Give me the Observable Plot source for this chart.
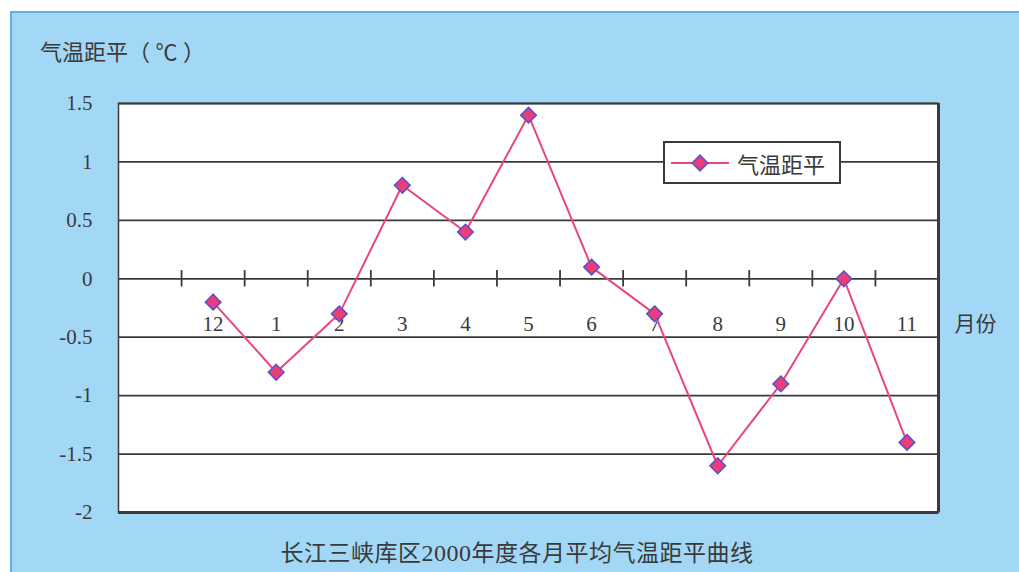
<!DOCTYPE html>
<html>
<head>
<meta charset="utf-8">
<script src="https://cdn.jsdelivr.net/npm/d3@7"></script>
<script src="https://cdn.jsdelivr.net/npm/@observablehq/plot@0.6"></script>
<style>
  html, body { margin: 0; padding: 0; background: #ffffff; }
  #page { position: relative; width: 1019px; height: 572px; overflow: hidden; }
  #panel {
    position: absolute; left: 10px; top: 11px; right: 0; bottom: 0;
    background: #a2d8f6;
    border-top: 2px solid #5fb0e0; border-left: 2px solid #5fb0e0;
  }
  .serif { font-family: "Liberation Serif", "Noto Sans CJK SC", serif; color: #3a3a3a; }
  .num { font-family: "Liberation Serif", serif; font-size: 24px; }
  #ytitle { position: absolute; left: 40px; top: 34px; font-size: 22px; }
  #chart { position: absolute; left: 0; top: 70px; }
  #legend {
    position: absolute; left: 663px; top: 141px; width: 174px; height: 39px;
    background: #fff; border: 2px solid #3a3a3a; box-sizing: content-box;
    display: flex; align-items: center; font-size: 22px;
  }
  #legend svg { margin-left: 6px; margin-right: 8px; }
  #caption { position: absolute; left: 0; width: 1034px; top: 534px; text-align: center; font-size: 23px; letter-spacing: 0.5px; }
</style>
</head>
<body>
<div id="page">
  <div id="panel"></div>
  <div id="ytitle" class="serif">气温距平（ ℃ ）</div>
  <div id="chart"></div>
  <div id="legend" class="serif"></div>
  <div id="caption" class="serif">长江三峡库区<span class="num">2000</span>年度各月平均气温距平曲线</div>
</div>
<script>
// Monthly mean temperature anomaly, Three Gorges reservoir area, Dec 1999 – Nov 2000
const months = ["12", "1", "2", "3", "4", "5", "6", "7", "8", "9", "10", "11"];
const anomaly = [-0.2, -0.8, -0.3, 0.8, 0.4, 1.4, 0.1, -0.3, -1.6, -0.9, 0, -1.4];
const yTicks = [-2, -1.5, -1, -0.5, 0, 0.5, 1, 1.5];
const seriesName = "气温距平";
const unitLabel = "月份";

const lineColor = "#e8477c";
const dotFill = "#ee3c77";
const dotStroke = "#5a52c8";
const ink = "#3a3a3a";
const serifFont = "Liberation Serif";
const cjkFont = "Noto Sans CJK SC";

// Category slots: one empty slot on the left, then one slot per month
const nSlots = months.length + 1;
const rows = months.map((m, i) => ({month: m, slot: i + 1.5, value: anomaly[i]}));
const boundaries = months.map((m, i) => i + 1);

const chart = Plot.plot({
  width: 1019,
  height: 460,
  marginLeft: 118,
  marginRight: 81,
  marginTop: 33,
  marginBottom: 18,
  style: {background: "transparent", fontFamily: serifFont, fontSize: "21px", color: ink},
  x: {domain: [0, nSlots], axis: null},
  y: {domain: [-2, 1.5], axis: null},
  marks: [
    Plot.frame({fill: "#ffffff", stroke: ink, strokeWidth: 1.5}),
    Plot.ruleY(yTicks, {stroke: ink, strokeWidth: 1.8}),
    Plot.ruleY([-2], {stroke: ink, strokeWidth: 3}),
    Plot.ruleX([nSlots], {stroke: ink, strokeWidth: 3}),
    // y tick labels, right-aligned left of the frame
    Plot.text(yTicks, {
      x: () => 0, y: d => d, text: d => String(d), textAnchor: "end", dx: -26,
      fontFamily: serifFont, fontSize: 21, fill: ink
    }),
    // boundary ticks along the zero line
    Plot.ruleX(boundaries, {x: d => d, y1: -0.07, y2: 0.07, stroke: ink, strokeWidth: 1.8}),
    Plot.text(rows, {x: "slot", y: () => 0, text: "month", dy: 45, fill: ink, fontSize: 21, fontFamily: serifFont}),
    Plot.text([unitLabel], {x: () => nSlots, y: () => 0, text: d => d, dx: 37, dy: 45, fill: ink, fontSize: 21, fontFamily: cjkFont}),
    Plot.line(rows, {x: "slot", y: "value", stroke: lineColor, strokeWidth: 2}),
    Plot.dot(rows, {x: "slot", y: "value", symbol: "diamond2", r: 7, fill: dotFill, stroke: dotStroke, strokeWidth: 1.6})
  ]
});
document.getElementById("chart").appendChild(chart);

// Legend: line with diamond marker, then the series name
const legend = document.getElementById("legend");
const sw = d3.create("svg").attr("width", 58).attr("height", 20);
sw.append("line").attr("x1", 0).attr("x2", 58).attr("y1", 10).attr("y2", 10)
  .attr("stroke", lineColor).attr("stroke-width", 2);
sw.append("path").attr("d", d3.symbol(d3.symbolDiamond2, Math.PI * 7 * 7)())
  .attr("transform", "translate(29,10)")
  .attr("fill", dotFill).attr("stroke", dotStroke).attr("stroke-width", 1.6);
legend.appendChild(sw.node());
const lt = document.createElement("span");
lt.textContent = seriesName;
legend.appendChild(lt);
</script>
</body>
</html>
